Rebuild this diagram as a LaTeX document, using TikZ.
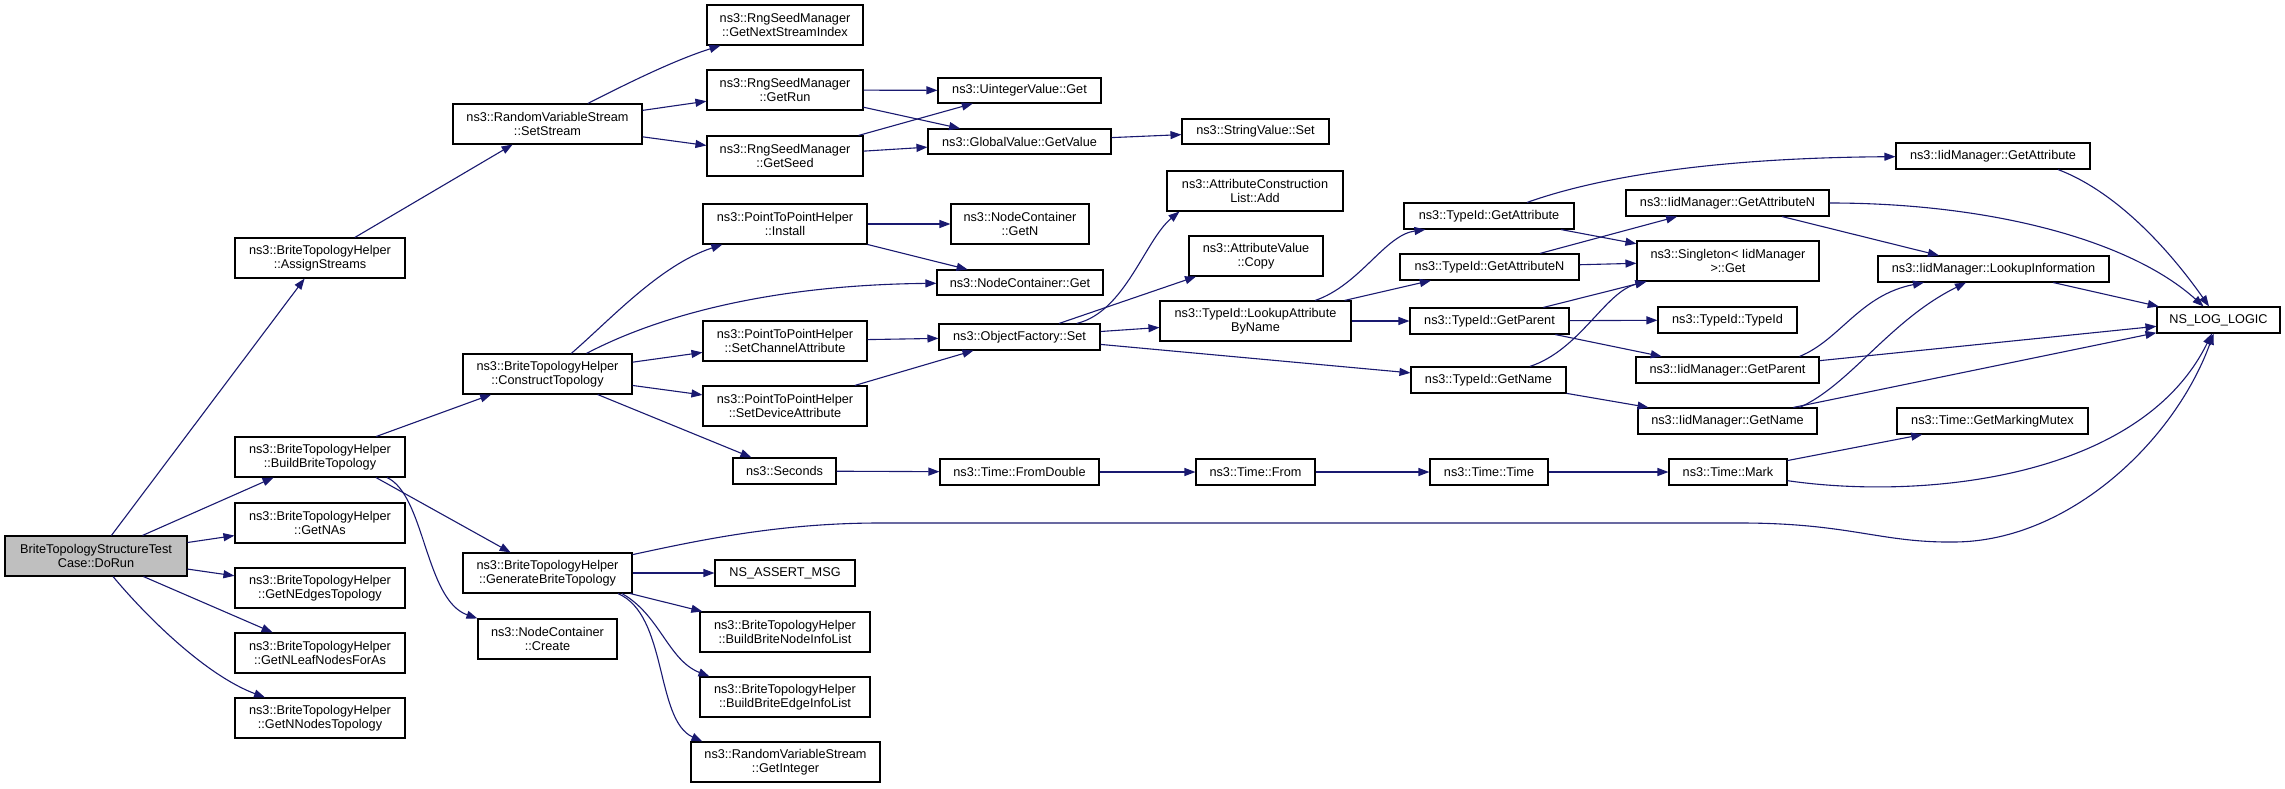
\documentclass[tikz,border=0pt]{standalone}
\usepackage{fontspec}
\setmainfont{Liberation Sans}
\usetikzlibrary{arrows.meta}
\definecolor{edgeblue}{HTML}{191970}
\definecolor{rootgray}{HTML}{BFBFBF}
\tikzset{
  box/.style={draw=black, line width=1.1pt, fill=white, inner sep=0pt, align=center,
    font=\fontsize{12.7}{14.5}\selectfont},
  call/.style={draw=edgeblue, line width=1.1pt, -{Triangle[length=11pt,width=8pt]}},
}
\newcommand{\bx}[7][]{\node[box,#1,minimum width={(#5-#3)*1pt},minimum height={(#6-#4)*1pt}] (#2) at ({(#3+#5)/2},{(#4+#6)/2}) {#7};}
\begin{document}
\begin{tikzpicture}[x=1pt,y=-1pt]
\fill[white] (0,0) rectangle (2285,789);
\useasboundingbox (0,0) rectangle (2285,789);
% nodes
\bx[fill=rootgray]{dorun}{5}{536}{187}{576}{BriteTopologyStructureTest\\Case::DoRun}
\bx{as}{235}{238}{405}{278}{ns3::BriteTopologyHelper\\::AssignStreams}
\bx{bbt}{235}{437}{405}{477}{ns3::BriteTopologyHelper\\::BuildBriteTopology}
\bx{gna}{235}{503}{405}{543}{ns3::BriteTopologyHelper\\::GetNAs}
\bx{gne}{235}{568}{405}{608}{ns3::BriteTopologyHelper\\::GetNEdgesTopology}
\bx{gnl}{235}{633}{405}{673}{ns3::BriteTopologyHelper\\::GetNLeafNodesForAs}
\bx{gnn}{235}{698}{405}{738}{ns3::BriteTopologyHelper\\::GetNNodesTopology}
\bx{ss}{453}{104}{642}{144}{ns3::RandomVariableStream\\::SetStream}
\bx{gnsi}{707}{5}{863}{45}{ns3::RngSeedManager\\::GetNextStreamIndex}
\bx{grun}{707}{70}{863}{110}{ns3::RngSeedManager\\::GetRun}
\bx{gseed}{707}{136}{863}{176}{ns3::RngSeedManager\\::GetSeed}
\bx{uvg}{938}{78}{1101}{103}{ns3::UintegerValue::Get}
\bx{gvg}{928}{129}{1111}{154}{ns3::GlobalValue::GetValue}
\bx{svs}{1182}{119}{1329}{144}{ns3::StringValue::Set}
\bx{acla}{1167}{171}{1343}{211}{ns3::AttributeConstruction\\List::Add}
\bx{ct}{463}{354}{632}{394}{ns3::BriteTopologyHelper\\::ConstructTopology}
\bx{inst}{703}{204}{867}{244}{ns3::PointToPointHelper\\::Install}
\bx{sca}{703}{321}{867}{361}{ns3::PointToPointHelper\\::SetChannelAttribute}
\bx{sda}{703}{386}{867}{426}{ns3::PointToPointHelper\\::SetDeviceAttribute}
\bx{sec}{733}{458}{836}{484}{ns3::Seconds}
\bx{getn}{951}{204}{1089}{244}{ns3::NodeContainer\\::GetN}
\bx{ncget}{937}{270}{1103}{295}{ns3::NodeContainer::Get}
\bx{avc}{1189}{236}{1323}{276}{ns3::AttributeValue\\::Copy}
\bx{ofs}{939}{324}{1100}{350}{ns3::ObjectFactory::Set}
\bx{lab}{1160}{301}{1351}{341}{ns3::TypeId::LookupAttribute\\ByName}
\bx{gbt}{463}{553}{632}{593}{ns3::BriteTopologyHelper\\::GenerateBriteTopology}
\bx{ncc}{478}{619}{617}{659}{ns3::NodeContainer\\::Create}
\bx{nam}{715}{560}{855}{586}{NS\_ASSERT\_MSG}
\bx{bbn}{700}{612}{870}{652}{ns3::BriteTopologyHelper\\::BuildBriteNodeInfoList}
\bx{bbe}{700}{677}{870}{717}{ns3::BriteTopologyHelper\\::BuildBriteEdgeInfoList}
\bx{gint}{691}{742}{880}{782}{ns3::RandomVariableStream\\::GetInteger}
\bx{fd}{940}{459}{1099}{485}{ns3::Time::FromDouble}
\bx{tfrom}{1196}{459}{1315}{485}{ns3::Time::From}
\bx{tt}{1430}{459}{1548}{485}{ns3::Time::Time}
\bx{mark}{1669}{459}{1787}{485}{ns3::Time::Mark}
\bx{gmm}{1897}{408}{2088}{434}{ns3::Time::GetMarkingMutex}
\bx{tga}{1404}{203}{1574}{229}{ns3::TypeId::GetAttribute}
\bx{tgan}{1400}{254}{1579}{280}{ns3::TypeId::GetAttributeN}
\bx{tgp}{1410}{308}{1569}{334}{ns3::TypeId::GetParent}
\bx{tgn}{1411}{367}{1566}{393}{ns3::TypeId::GetName}
\bx{tti}{1658}{307}{1797}{333}{ns3::TypeId::TypeId}
\bx{sing}{1637}{241}{1819}{281}{ns3::Singleton< IidManager\\ >::Get}
\bx{igan}{1626}{190}{1829}{216}{ns3::IidManager::GetAttributeN}
\bx{igp}{1636}{357}{1819}{383}{ns3::IidManager::GetParent}
\bx{ign}{1638}{408}{1817}{434}{ns3::IidManager::GetName}
\bx{iga}{1896}{143}{2090}{169}{ns3::IidManager::GetAttribute}
\bx{ili}{1878}{256}{2109}{282}{ns3::IidManager::LookupInformation}
\bx{nll}{2157}{307}{2280}{333}{NS\_LOG\_LOGIC}
% edges
\draw[call] (dorun) -- (as);
\draw[call] (dorun) -- (bbt);
\draw[call] (dorun) -- (gna);
\draw[call] (dorun) -- (gne);
\draw[call] (dorun) -- (gnl);
\draw[call] (dorun) .. controls (145,615) and (205,675) .. (gnn);
\draw[call] (as) -- (ss);
\draw[call] (ss) .. controls (630,82) and (675,60) .. (gnsi);
\draw[call] (ss) -- (grun);
\draw[call] (ss) -- (gseed);
\draw[call] (grun) -- (uvg);
\draw[call] (grun) -- (gvg);
\draw[call] (gseed) -- (uvg);
\draw[call] (gseed) -- (gvg);
\draw[call] (gvg) -- (svs);
\draw[call] (bbt) -- (ct);
\draw[call] ([xshift=56pt]bbt.south) -- (gbt);
\draw[call] ([xshift=67pt]bbt.south) .. controls (425,495) and (425,600) .. (ncc.north west);
\draw[call] (ct) .. controls (610,320) and (660,265) .. (inst);
\draw[call] (ct) .. controls (650,320) and (760,285) .. (ncget);
\draw[call] (ct) -- (sca);
\draw[call] (ct) -- (sda);
\draw[call] (ct) -- (sec);
\draw[call] (inst) -- (getn);
\draw[call] (inst) -- (ncget);
\draw[call] (sca) -- (ofs);
\draw[call] (sda) -- (ofs);
\draw[call] (ofs) .. controls (1125,312) and (1145,240) .. ([xshift=13pt]acla.south west);
\draw[call] (ofs) -- (avc);
\draw[call] (ofs) -- (lab);
\draw[call] (ofs) -- (tgn);
\draw[call] (lab) .. controls (1360,285) and (1385,235) .. ([xshift=22pt]tga.south west);
\draw[call] (lab) -- (tgan);
\draw[call] (lab) -- (tgp);
\draw[call] (tga) .. controls (1590,180) and (1700,158) .. (iga);
\draw[call] (tga) -- (sing);
\draw[call] (tgan) -- (igan);
\draw[call] (tgan) -- (sing);
\draw[call] (tgp) -- (sing);
\draw[call] (tgp) -- (tti);
\draw[call] (tgp) -- (igp);
\draw[call] (tgn) .. controls (1580,350) and (1605,292) .. (sing);
\draw[call] (tgn) -- (ign);
\draw[call] ([xshift=65pt]iga.south) .. controls (2125,195) and (2180,265) .. (nll);
\draw[call] (igan) .. controls (1990,203) and (2130,240) .. (nll);
\draw[call] (igan) -- (ili);
\draw[call] (ili) -- (nll);
\draw[call] ([xshift=72pt]igp.north) .. controls (1840,340) and (1860,295) .. (ili);
\draw[call] (igp) -- (nll);
\draw[call] ([xshift=72pt]ign.north) .. controls (1850,385) and (1890,320) .. (ili);
\draw[call] (ign) -- (nll);
\draw[call] (sec) -- (fd);
\draw[call] (fd) -- (tfrom);
\draw[call] (tfrom) -- (tt);
\draw[call] (tt) -- (mark);
\draw[call] (mark) -- (gmm);
\draw[call] (mark) .. controls (1920,500) and (2140,480) .. (nll);
\draw[call] (gbt) .. controls (700,540) and (780,523) .. (880,523) -- (1740,523) .. controls (1850,523) and (1880,543) .. (1955,542) .. controls (2070,541) and (2175,440) .. (nll);
\draw[call] (gbt) -- (nam);
\draw[call] (gbt) -- (bbn);
\draw[call] ([xshift=74.5pt]gbt.south) .. controls (660,615) and (668,660) .. ([xshift=10pt]bbe.north west);
\draw[call] ([xshift=70.5pt]gbt.south) .. controls (668,615) and (655,720) .. ([xshift=12pt]gint.north west);
\end{tikzpicture}
\end{document}
